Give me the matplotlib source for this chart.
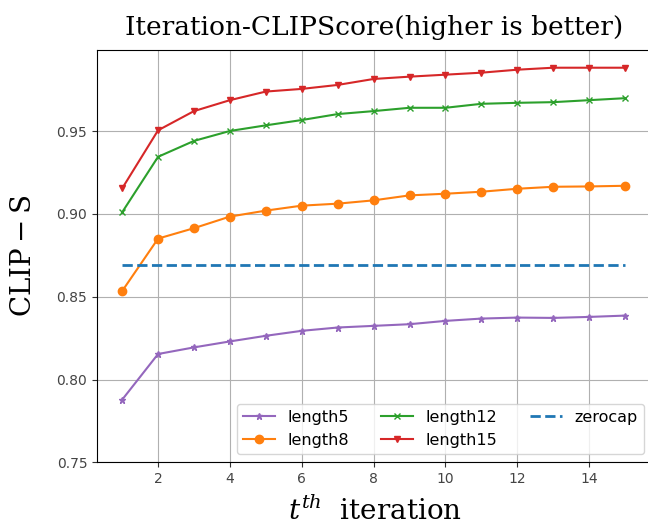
import matplotlib
matplotlib.use("Agg")
import matplotlib.pyplot as plt

iterations = list(range(1, 16))
length5 = [0.7878, 0.8154, 0.8194, 0.8230, 0.8264, 0.8294, 0.8314, 0.8324, 0.8334, 0.8354, 0.8368, 0.8374, 0.8372, 0.8378, 0.8386]
length8 = [0.8534, 0.8851, 0.8914, 0.8984, 0.9020, 0.9050, 0.9062, 0.9082, 0.9112, 0.9122, 0.9134, 0.9152, 0.9164, 0.9166, 0.9170]
length12 = [0.9010, 0.9345, 0.9441, 0.9501, 0.9535, 0.9567, 0.9603, 0.9621, 0.9641, 0.9641, 0.9665, 0.9671, 0.9675, 0.9687, 0.9699]
length15 = [0.9154, 0.9505, 0.9621, 0.9687, 0.9739, 0.9755, 0.9779, 0.9815, 0.9829, 0.9841, 0.9853, 0.9871, 0.9883, 0.9883, 0.9883]
zerocap = [0.869] * 15

plt.rcParams['mathtext.fontset'] = 'dejavuserif'

fig = plt.figure(figsize=(6.48, 5.31), dpi=100)
ax = fig.add_axes([97 / 648, (531 - 462.3) / 531, (652 - 97) / 648, (462.3 - 50) / 531])

ax.plot(iterations, length5, marker='*', markersize=5, color='tab:purple', label='length5')
ax.plot(iterations, length8, marker='o', markersize=6, color='tab:orange', label='length8')
ax.plot(iterations, length12, marker='x', markersize=5, color='tab:green', label='length12')
ax.plot(iterations, length15, marker='v', markersize=5, color='tab:red', label='length15')
ax.plot(iterations, zerocap, linestyle='--', linewidth=2, color='tab:blue', label='zerocap')

ax.set_ylim(0.75, 0.999)
ax.set_xlim(0.3, 15.75)
ax.set_yticks([0.75, 0.80, 0.85, 0.90, 0.95])
ax.set_xticks([2, 4, 6, 8, 10, 12, 14])
ax.grid(True)
ax.tick_params(labelsize=10, colors='#333333', labelcolor='#444444')

ax.set_title('Iteration-CLIPScore(higher is better)', fontsize=19, family='DejaVu Serif', pad=11)
ax.set_ylabel(r'$\mathrm{CLIP-S}$', fontsize=20, labelpad=14)
ax.set_xlabel(r'$t^{th}$  iteration', fontsize=20, family='DejaVu Serif', labelpad=8)

ax.legend(loc='lower right', ncol=3, fontsize=11.5, columnspacing=2.0)

fig.savefig('out.png', dpi=100)
